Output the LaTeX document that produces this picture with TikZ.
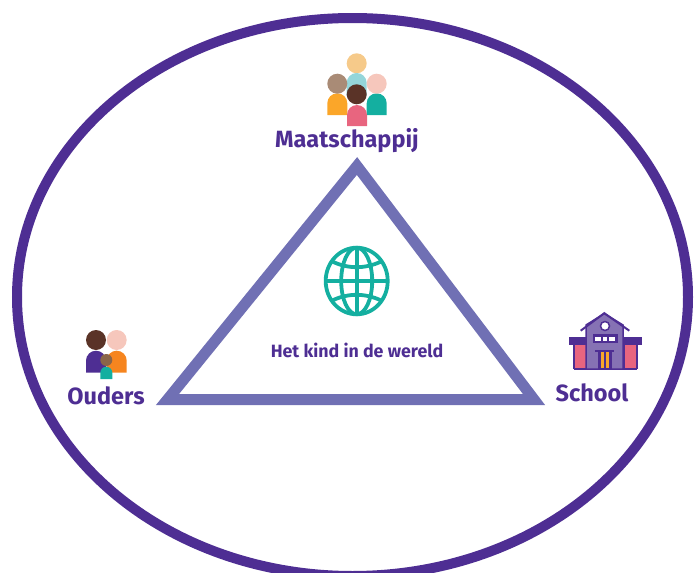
\documentclass[tikz,border=0pt]{standalone}
\usepackage{fontspec}
\setmainfont{Fira Sans}
\usepackage{xcolor}
\usetikzlibrary{positioning}
\definecolor{paars}{HTML}{4E2E93}
\definecolor{blauwpaars}{HTML}{7070B4}
\definecolor{groen}{HTML}{14AFA0}
\definecolor{lichtblauw}{HTML}{95D6DA}
\definecolor{oranje}{HTML}{FBA629}
\definecolor{feloranje}{HTML}{F6851F}
\definecolor{roze}{HTML}{E8657F}
\definecolor{zalm}{HTML}{F6C7BC}
\definecolor{zand}{HTML}{F6CA8A}
\definecolor{taupe}{HTML}{A98B76}
\definecolor{bruin}{HTML}{5A3327}
\definecolor{midbruin}{HTML}{8A6549}
\definecolor{gevel}{HTML}{8672B4}
\tikzset{
	label/.style={text=paars,font=\fontsize{23.5}{24}\selectfont\bfseries,inner sep=0pt},
	midlabel/.style={text=paars,font=\fontsize{17.8}{18}\selectfont\bfseries,inner sep=0pt},
	globe/.style={draw=groen,line width=3.8pt},
	wing/.style={fill=roze,draw=paars,line width=1.5pt},
}
\begin{document}
\begin{tikzpicture}[x=1pt,y=-1pt]
	\useasboundingbox (0,0) rectangle (697,573);
	\begin{scope}
	\clip (0,0) rectangle (697,573);
	\draw[paars,line width=10pt] (352.5,297) ellipse[x radius=335.5,y radius=279];
	\end{scope}
	\draw[blauwpaars,line width=11pt,miter limit=10] (357,166) -- (534,399.5) -- (167.5,399.5) -- cycle;
	\node[label] (maatschappij) at (347,141) {Maatschappij};
	\node[label] (ouders) at (106,396) {Ouders};
	\node[label] (school) at (592,393) {School};
	\node[midlabel] (kind) at (357,350) {Het kind in de wereld};
	% globe
	\draw[globe] (356.7,281) ellipse[x radius=31,y radius=33.3];
	\draw[globe] (356.7,281) ellipse[x radius=15.5,y radius=33.3];
	\draw[globe] (356.7,247.7) -- (356.7,314.3);
	\draw[globe] (325.7,281) -- (387.7,281);
	\draw[globe] (332.7,261.7) .. controls (348,269) and (365,269) .. (380.7,261.7);
	\draw[globe] (332.7,300.3) .. controls (348,293) and (365,293) .. (380.7,300.3);
	% maatschappij
	\fill[zand] (356.7,63.3) circle[radius=10];
	\fill[lichtblauw] (346.7,96) -- (346.7,83) arc[start angle=180,end angle=360,radius=10] -- (366.7,96) -- cycle;
	\fill[oranje] (327.3,115) -- (327.3,103.3) arc[start angle=180,end angle=360,radius=10] -- (347.3,115) -- cycle;
	\fill[groen] (366.7,115) -- (366.7,103.3) arc[start angle=180,end angle=360,radius=10] -- (386.7,115) -- cycle;
	\fill[taupe] (337.3,83.7) circle[radius=10];
	\fill[zalm] (376.7,83.7) circle[radius=10];
	\fill[roze] (347,126) -- (347,115) arc[start angle=180,end angle=360,radius=10] -- (367,126) -- cycle;
	\fill[bruin] (356.7,94.3) circle[radius=10];
	% ouders
	\fill[paars] (86,372.7) -- (86,360.7) arc[start angle=180,end angle=360,radius=10] -- (106,372.7) -- cycle;
	\fill[feloranje] (106.7,372.7) -- (106.7,360.7) arc[start angle=180,end angle=360,radius=10] -- (126.7,372.7) -- cycle;
	\fill[bruin] (96,340) circle[radius=10];
	\fill[zalm] (116.7,340) circle[radius=10];
	\fill[groen] (100.3,379) -- (100.3,372.7) arc[start angle=180,end angle=360,radius=6] -- (112.3,379) -- cycle;
	\fill[midbruin] (106.3,360) circle[radius=6];
	% school
	\draw[wing] (574,344) rectangle (587,368.5);
	\draw[wing] (624,344) rectangle (637,368.5);
	\fill[paars] (569,337) rectangle (641.7,344.7);
	\fill[paars] (574,367.5) rectangle (637,369.5);
	\filldraw[fill=gevel,draw=paars,line width=1.5pt] (586,369) -- (586,325) -- (604.3,313.5) -- (623,325) -- (623,369) -- cycle;
	\draw[paars,line width=2pt] (580.7,330.7) -- (604.3,313.2) -- (629.3,330.7);
	\filldraw[fill=white,draw=paars,line width=1.5pt] (605,326) circle[radius=4.5];
	\fill[paars] (592.7,334.3) rectangle (617.7,343.3);
	\fill[white] (595,336.7) rectangle (600.7,341);
	\fill[white] (602.7,336.7) rectangle (607.3,341);
	\fill[white] (609.3,336.7) rectangle (615,341);
	\fill[paars] (595,350) rectangle (614,352);
	\fill[paars] (598.3,352) rectangle (611.7,368.5);
	\fill[oranje] (600.7,352) rectangle (604,367.5);
	\fill[oranje] (606,352) rectangle (609.3,367.5);
\end{tikzpicture}
\end{document}
